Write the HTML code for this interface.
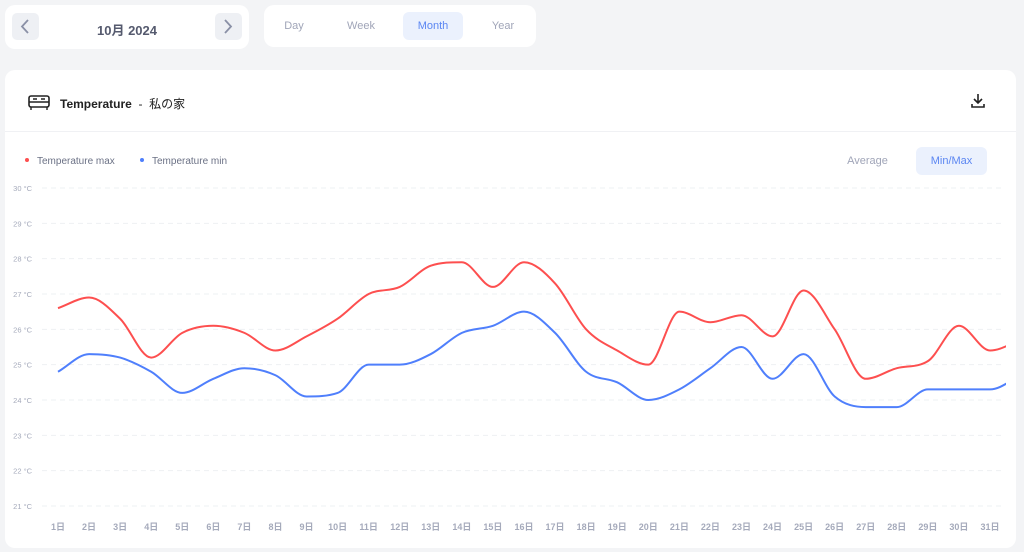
<!DOCTYPE html>
<html><head><meta charset="utf-8">
<style>
*{box-sizing:border-box;margin:0;padding:0}
body{width:1024px;height:552px;background:#f3f4f6;font-family:"Liberation Sans","Noto Sans CJK JP",sans-serif;position:relative;overflow:hidden}
.card{position:absolute;background:#fff;border-radius:10px}
.nav{position:absolute;top:8px;width:27px;height:27px;border-radius:5px;background:#eef0f4}
.nav svg{position:absolute;left:8px;top:6px}
.tab{position:absolute;top:12px;height:28px;line-height:28px;font-size:11px;color:#a0a5b8;text-align:center;border-radius:6px}
</style></head><body>
<div class="card" style="left:5px;top:5px;width:244px;height:44px">
  <div class="nav" style="left:7px"><svg width="10" height="15" viewBox="0 0 10 15"><path d="M8 1L2 7.5 8 14" fill="none" stroke="#8a90a6" stroke-width="1.8"/></svg></div>
  <div style="position:absolute;left:40px;width:164px;top:15px;text-align:center;font-size:13px;font-weight:bold;color:#555a6e">10月 2024</div>
  <div class="nav" style="left:210px"><svg width="10" height="15" viewBox="0 0 10 15"><path d="M2 1L8 7.5 2 14" fill="none" stroke="#8a90a6" stroke-width="1.8"/></svg></div>
</div>
<div class="card" style="left:264px;top:5px;width:272px;height:42px">
  <div class="tab" style="left:10px;width:40px;top:7px">Day</div>
  <div class="tab" style="left:72px;width:50px;top:7px">Week</div>
  <div class="tab" style="left:139px;width:60px;top:7px;background:#ebf1fd;color:#5b86f2">Month</div>
  <div class="tab" style="left:219px;width:40px;top:7px">Year</div>
</div>
<div class="card" style="left:5px;top:70px;width:1011px;height:478px">
  <svg style="position:absolute;left:22px;top:23px" width="24" height="18" viewBox="0 0 24 18"><rect x="2" y="3" width="20" height="11" rx="2" fill="none" stroke="#222" stroke-width="1.6"/><path d="M2 9h20M6 6h4M14 6h4M4 14v3M20 14v3" stroke="#222" stroke-width="1.4"/></svg>
  <div style="position:absolute;left:55px;top:25px;font-size:12px;color:#222"><b>Temperature</b>&nbsp; - &nbsp;私の家</div>
  <svg style="position:absolute;left:965px;top:23px" width="16" height="16" viewBox="0 0 16 16"><path d="M8 1v9M4 6l4 4 4-4M2 11v3h12v-3" fill="none" stroke="#222" stroke-width="1.6"/></svg>
  <div style="position:absolute;left:0;right:0;top:61px;height:1px;background:#f0f1f4"></div>
  <div style="position:absolute;left:830px;top:77px;width:65px;height:28px;line-height:28px;text-align:center;font-size:11px;color:#a0a5b8">Average</div>
  <div style="position:absolute;left:911px;top:77px;width:71px;height:28px;line-height:28px;text-align:center;font-size:11px;color:#5b86f2;background:#ebf1fd;border-radius:6px">Min/Max</div>
</div>
<svg id="chart" width="1024" height="552" style="position:absolute;left:0;top:0"><defs><clipPath id="plotclip"><rect x="40" y="150" width="966" height="380"/></clipPath></defs></svg>
<script>
const days=['1日','2日','3日','4日','5日','6日','7日','8日','9日','10日','11日','12日','13日','14日','15日','16日','17日','18日','19日','20日','21日','22日','23日','24日','25日','26日','27日','28日','29日','30日','31日'];
const yTicks=[21,22,23,24,25,26,27,28,29,30];
const maxTemps=[26.6,26.9,26.3,25.2,25.9,26.1,25.9,25.4,25.8,26.3,27.0,27.2,27.8,27.9,27.2,27.9,27.3,26.0,25.4,25.0,26.5,26.2,26.4,25.8,27.1,26.0,24.6,24.9,25.1,26.1,25.4,25.7];
const minTemps=[24.8,25.3,25.2,24.8,24.2,24.6,24.9,24.7,24.1,24.2,25.0,25.0,25.3,25.9,26.1,26.5,25.9,24.8,24.5,24.0,24.3,24.9,25.5,24.6,25.3,24.1,23.8,23.8,24.3,24.3,24.3,24.7];
const NS='http://www.w3.org/2000/svg';
const svg=document.getElementById('chart');
const x=i=>58+i*(990-58)/30;
const y=v=>506-(v-21)*(506-188)/9;
function mk(t,a){const e=document.createElementNS(NS,t);for(const k in a)e.setAttribute(k,a[k]);svg.appendChild(e);return e;}
yTicks.forEach(t=>{
  const g=mk('line',{x1:42,x2:1005,y1:y(t),y2:y(t),stroke:'#eef0f3','stroke-dasharray':'5,4'});
  
  
  const l=mk('text',{x:32,y:y(t)+3,'text-anchor':'end','font-size':'7.5',fill:'#a5aabb','font-family':'Liberation Sans, sans-serif'});
  l.textContent=t+' °C';
  
  
});
days.forEach((d,i)=>{
  const l=mk('text',{x:x(i),y:530,'text-anchor':'middle','font-size':'9','font-weight':'bold',fill:'#a5aabb','font-family':'Liberation Sans, Noto Sans CJK JP, sans-serif'});
  l.textContent=d;
  
  
});
function path(vals){
  const p=vals.map((v,i)=>[x(i),y(v)]);const n=p.length;
  const d=[],m=[];
  for(let i=0;i<n-1;i++)d.push((p[i+1][1]-p[i][1])/(p[i+1][0]-p[i][0]));
  m[0]=d[0];m[n-1]=d[n-2];
  for(let i=1;i<n-1;i++)m[i]=d[i-1]*d[i]<=0?0:(d[i-1]+d[i])/2;
  for(let i=0;i<n-1;i++){if(d[i]===0){m[i]=m[i+1]=0;continue;}const a=m[i]/d[i],b=m[i+1]/d[i],s=a*a+b*b;if(s>9){const t=3/Math.sqrt(s);m[i]=t*a*d[i];m[i+1]=t*b*d[i];}}
  let s='M'+p[0][0]+','+p[0][1];
  for(let i=0;i<n-1;i++){const h=(p[i+1][0]-p[i][0])/3;s+=`C${p[i][0]+h},${p[i][1]+m[i]*h} ${p[i+1][0]-h},${p[i+1][1]-m[i+1]*h} ${p[i+1][0]},${p[i+1][1]}`;}
  return s;
}
const lmax=mk('path',{d:path(maxTemps),fill:'none',stroke:'#fd4f4f','stroke-width':2,'clip-path':'url(#plotclip)'});


const lmin=mk('path',{d:path(minTemps),fill:'none',stroke:'#4f7ffc','stroke-width':2,'clip-path':'url(#plotclip)'});


[['#fd4f4f','Temperature max',27,'legend-max'],['#4f7ffc','Temperature min',142,'legend-min']].forEach(([c,t,lx,n])=>{
  const g=mk('g',{});
  
  
  const ci=document.createElementNS(NS,'circle');ci.setAttribute('cx',lx);ci.setAttribute('cy',160);ci.setAttribute('r',2);ci.setAttribute('fill',c);g.appendChild(ci);
  const tx=document.createElementNS(NS,'text');tx.setAttribute('x',lx+10);tx.setAttribute('y',164);tx.setAttribute('font-size','10');tx.setAttribute('fill','#6b7185');tx.setAttribute('font-family','Liberation Sans, sans-serif');tx.textContent=t;g.appendChild(tx);
});
</script>
</body></html>
